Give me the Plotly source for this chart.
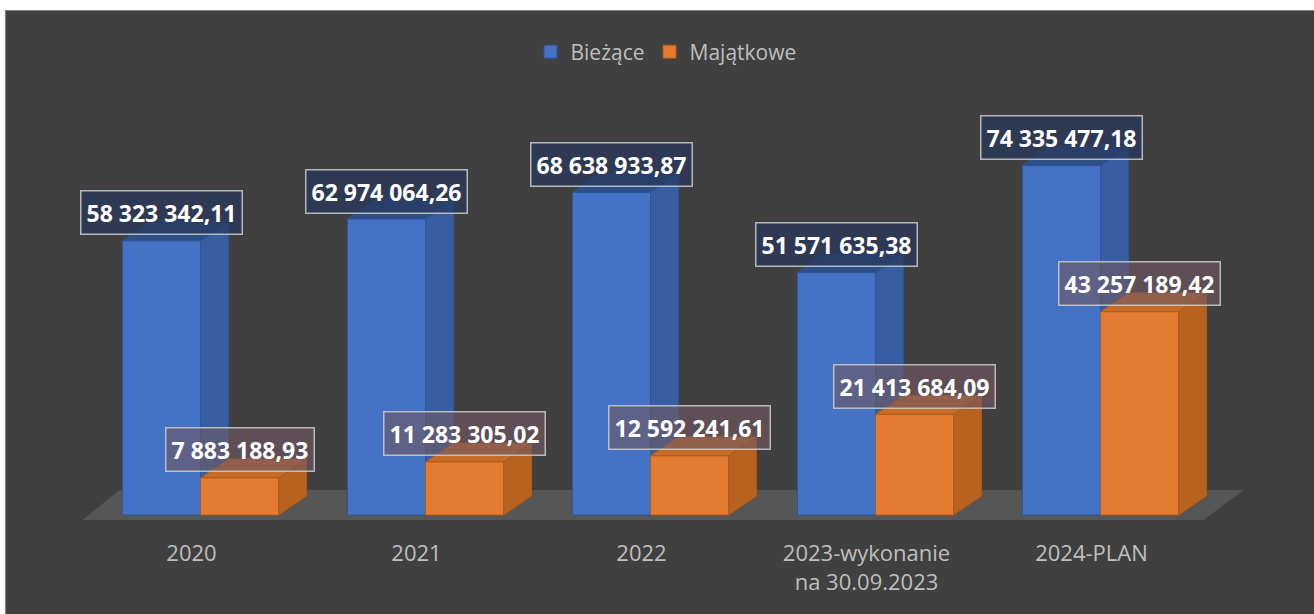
import plotly.graph_objects as go

# ---- data ----
categories = ["2020", "2021", "2022", "2023-wykonanie<br>na 30.09.2023", "2024-PLAN"]
biezace = [58323342.11, 62974064.26, 68638933.87, 51571635.38, 74335477.18]
majatkowe = [7883188.93, 11283305.02, 12592241.61, 21413684.09, 43257189.42]
series_names = ["Bieżące", "Majątkowe"]

# ---- geometry / style (layout constants) ----
W_FIG, H_FIG = 1314, 614
ML, MR, MT, MB = 43, 56, 100, 84
PW = W_FIG - ML - MR
PH = H_FIG - MT - MB
BAR_W = 0.347          # bar width in category units
DX = 0.124             # 3D depth offset in category units
DY = 4.05e6            # 3D depth offset in value units
X_RANGE = [-0.7, 4.7]
Y_RANGE = [-3.19e6, 88.3e6]

BG = "#404040"
TXT = "#BFBFBF"

styles = {
    "Bieżące": dict(front="#4472C4", side="#375EA2", top="#2F4F87", edge="#2F5597",
                    offset=-BAR_W, box="rgba(38,55,92,0.70)"),
    "Majątkowe": dict(front="#E57B31", side="#B8621F", top="#C86B27", edge="#AE5A1A",
                      offset=0.0, box="rgba(112,88,98,0.62)"),
}


def fmt(v):
    return f"{v:,.2f}".replace(",", " ").replace(".", ",")


def px_to_paper_x(px):
    return (px - ML) / PW


def px_to_paper_y(py):
    return (H_FIG - MB - py) / PH


fig = go.Figure()

# 3D bars: side, top, front faces computed from data values
for name, values in zip(series_names, [biezace, majatkowe]):
    st = styles[name]
    for i, v in enumerate(values):
        x0 = i + st["offset"]
        x1 = x0 + BAR_W
        faces = [
            ([x1, x1, x1 + DX, x1 + DX, x1], [0, v, v + DY, DY, 0], st["side"]),
            ([x0, x1, x1 + DX, x0 + DX, x0], [v, v, v + DY, v + DY, v], st["top"]),
            ([x0, x1, x1, x0, x0], [0, 0, v, v, 0], st["front"]),
        ]
        for fx, fy, col in faces:
            fig.add_trace(go.Scatter(
                x=fx, y=fy, mode="lines", fill="toself", fillcolor=col,
                line=dict(color=st["edge"], width=1), hoverinfo="skip",
                showlegend=False))
        fig.add_annotation(
            x=x0 + BAR_W / 2, y=v, yshift=28, xref="x", yref="y",
            text=f"<b>{fmt(v)}</b>", showarrow=False,
            font=dict(family="Open Sans", size=23, color="white"),
            bgcolor=st["box"], bordercolor="rgba(205,205,205,0.85)",
            borderwidth=1.5, borderpad=5, xanchor="center", yanchor="middle")

# legend entries
for name in series_names:
    st = styles[name]
    fig.add_trace(go.Scatter(
        x=[None], y=[None], mode="markers", name=name,
        marker=dict(symbol="square", size=13, color=st["front"],
                    line=dict(color=st["edge"], width=1))))

n = len(categories)
floor_l, floor_r = -0.524, n - 1 + 0.458
floor_front, floor_back = -1.06e6, 5.32e6
fig.add_shape(type="path", xref="x", yref="y", layer="below",
              path=(f"M {floor_l},{floor_front} L {floor_r},{floor_front} "
                    f"L {floor_r + 0.178},{floor_back} L {floor_l + 0.164},{floor_back} Z"),
              fillcolor="#565656", line=dict(width=0))

# dark chart background with thin border
fig.add_shape(type="rect", xref="paper", yref="paper", layer="below",
              x0=px_to_paper_x(5.5), x1=px_to_paper_x(1320),
              y0=px_to_paper_y(620), y1=px_to_paper_y(10.5),
              fillcolor=BG, line=dict(color="#808080", width=1.2))

fig.update_layout(
    width=W_FIG, height=H_FIG,
    margin=dict(l=ML, r=MR, t=MT, b=MB),
    paper_bgcolor="white", plot_bgcolor="rgba(0,0,0,0)",
    font=dict(family="Open Sans", color=TXT, size=22),
    showlegend=True,
    legend=dict(orientation="h", x=px_to_paper_x(666), xanchor="center",
                y=px_to_paper_y(52), yanchor="middle",
                bgcolor="rgba(0,0,0,0)", font=dict(size=21, color=TXT),
                itemwidth=30, tracegroupgap=0),
    xaxis=dict(range=X_RANGE, showgrid=False, zeroline=False, showline=False,
               tickvals=[i - 0.04 for i in range(n)], ticktext=categories,
               ticks="", ticklabelstandoff=8,
               tickfont=dict(size=22, color=TXT), fixedrange=True),
    yaxis=dict(range=Y_RANGE, visible=False, showgrid=False, zeroline=False,
               fixedrange=True),
)

fig.write_html(
    "out.html",
    config={"displayModeBar": False},
    post_script="document.body.style.margin='0';document.body.style.overflow='hidden';",
)
